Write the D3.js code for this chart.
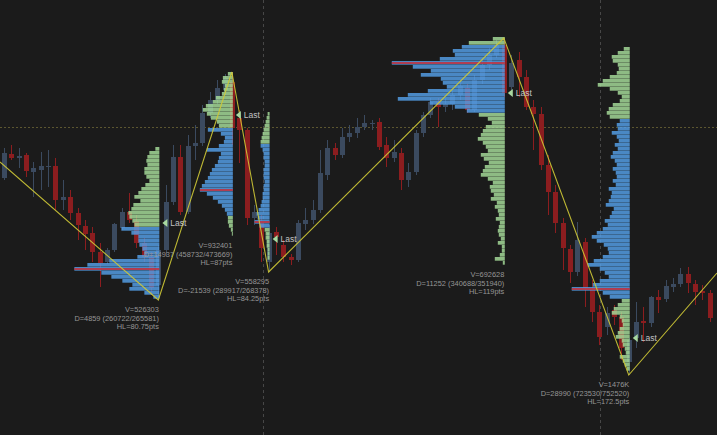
<!DOCTYPE html>
<html>
<head>
<meta charset="utf-8">
<script src="https://cdn.jsdelivr.net/npm/d3@7"></script>
<style>
html, body { margin: 0; padding: 0; background: #1b1b1b; overflow: hidden; }
</style>
</head>
<body>
<div id="chart"></div>
<script>
// candles (price), one per bar
const opens  = [4011,4023,4021,4022.5,4014,4015,4016.5,4017,4000,4001.5,3993.5,3987,3983.5,3974,3969,3975,3986,3994,3989.5,3978.5,3971.5,3957.5,3975,3999,4021.5,3994,4027,4028.5,4043.5,4050,4055,4059,4041,4035,3991,3988.5,3969,3984,3977.5,3971.5,3970,3988,3990,3995,4012.5,4026,4022.5,4031.5,4033.5,4036.5,4038,4039,4027.5,4021,4023.5,4010,4014,4033.5,4042.5,4049,4046.5,4048,4052.5,4056,4045,4060,4067.5,4072.5,4077.5,4056.5,4070,4061.5,4046.5,4043,4017.5,4004,3988.5,3975.5,3964,3979,3956,3944,3936.5,3945,3941.5,3919,3931,3939.5,3938.5,3951.5,3950.5,3956.5,3958,3963,3958,3954.5,3953.5];
const highs  = [4026,4027.5,4026,4023.5,4019,4024,4025,4021,4010,4005,3996,3990,3986.5,3978.5,3976,3988.5,3996,4003.5,3992.5,3981,3974,3977.5,4007.5,4027.5,4027.5,4032.5,4037.5,4047.5,4054,4060,4063,4064,4045,4036,3997.5,3992.5,3987.5,3986.5,3980,3973,3990,3996,4000,4025,4030,4028.5,4036,4037.5,4041,4042.5,4040,4041,4031.5,4030,4026,4018.5,4035,4044,4051,4051,4051,4055,4060,4058,4062.5,4071,4076,4080,4081,4072.5,4074,4065,4050,4046.5,4022.5,4007.5,3991,3977.5,3989,3981,3960,3947.5,3946.5,3947.5,3944,3931,3949,3946.5,3952,3955,3960,3961,3966,3966.5,3960,3957.5,3955];
const lows   = [4010,4020,4016,4011.5,4001.5,4005,4006.5,3995,3995,3990,3980,3975,3969,3956.5,3968,3974,3985,3988.5,3976,3969,3952.5,3950,3972,3997.5,3992.5,3993,4020,4027,4041,4048,4052.5,4027.5,4018.5,3987.5,3987.5,3969,3964,3972.5,3969,3967.5,3969,3985,3988,3993.5,4010,4020,4021,4029,4031,4035,4035,4025,4016.5,4019,4005,4006.5,4012.5,4031.5,4041,4036.5,4044,4045,4050,4043.5,4044,4058,4065,4071,4051.5,4055,4051.5,4045,4025,4015,3992.5,3983.5,3965,3958.5,3962,3946.5,3939,3927.5,3932.5,3937.5,3920,3912.5,3926,3929,3936.5,3943.5,3949,3954,3956.5,3953.5,3947.5,3950,3939];
const closes = [4023.5,4021,4022,4014.5,4016,4017,4017,4000,4001.5,3993.5,3987.5,3983,3974,3968.5,3975,3988,3994,3990,3978.5,3971.5,3956,3975,3999,4021.5,3994,4027,4028.5,4043.5,4050,4056,4061,4036,4035,3991,3994,3976,3983.5,3981.5,3971.5,3970,3988.5,3990,3995,4013.5,4026,4022.5,4031.5,4033.5,4036.5,4038.5,4038.5,4026.5,4021,4024,4010,4014,4033.5,4042.5,4049,4046.5,4048,4052.5,4057,4045,4060,4067.5,4072.5,4077.5,4053.5,4068.5,4061.5,4046.5,4043,4017.5,4004,3988.5,3976,3964,3980,3956,3944,3931.5,3943.5,3941.5,3926,3930,3939,3938.5,3951.5,3950,3957,3958,3963,3958.5,3954,3953.5,3941];

// zigzag swing points (bar index, price)
const zigzagIdx   = [-0.55, 21, 31, 36, 68, 85, 97];
const zigzagPrice = [4019, 3950, 4064, 3964, 4081, 3912.5, 3963.5];

// one volume profile per swing leg, ending at the swing bar
const profilePivot  = [21, 31, 36, 68, 85];
const profileHigh   = [4026.5, 4064, 4044, 4081.5, 4076.5];
const profileVaHigh = [3986.5, 4036, 4028, 4077.5, 4040.5];
const profileVaLow  = [3950.5, 3992, 3986, 4043.5, 3950.5];
const profileLast   = [3988.5, 4042.5, 3980.5, 4053.5, 3931];
const rowPts = 2;

const vol1 = [4,10,12,13,12,15,15,13,10,14,18,21,25,19,26,28,31,30,27,25,38,28,21,21,20,17,15,22,50,72,85,58,48,37,27,30,15,6];
const vol2 = [5,10,11,8,9,11,17,20,27,30,26,22,16,14,25,12,8,9,14,26,12,14,15,18,21,23,25,28,31,33,26,20,15,11,8,6,5,5,4,2,1];
const vol3 = [2,3,4,5,6,7,8,9,9,7,6,6,5,5,6,6,6,5,6,6,7,7,8,9,11,13,12,15,10,5,4,4,3,3,2,2,2];
const vol4 = [12,36,43,52,50,65,113,92,74,84,64,62,58,77,97,107,75,50,38,26,17,13,19,22,24,27,22,19,17,24,21,16,20,22,24,17,12,15,14,11,14,8,10,7,6,9,5,6,7,6,4,7,3,3,5,10,2];
const vol5 = [6,12,18,17,12,11,13,20,27,32,20,12,8,10,17,21,23,20,10,13,12,18,13,11,15,12,17,19,15,13,17,14,13,17,14,21,18,19,21,24,16,18,20,25,22,27,33,38,33,26,22,21,27,36,42,30,25,21,30,37,58,27,20,8,12,16,18,10,8,7,10,12,14,8,7,5,4,10,7,5,3];
const profileVols = [vol1, vol2, vol3, vol4, vol5];

// leg statistics
const statV  = ["V=526303", "V=932401", "V=558295", "V=692628", "V=1476K"];
const statD  = ["D=4859 (260722/265581)", "D=14937 (458732/473669)", "D=-21539 (289917/268378)", "D=11252 (340688/351940)", "D=28990 (723530/752520)"];
const statHL = ["HL=80.75pts", "HL=87pts", "HL=84.25pts", "HL=119pts", "HL=172.5pts"];

// grid
const gridIdx = [35.25, 81.1];
const gridPrice = [4036.5];

// ---- layout ----
const width = 717, height = 435;
const profileMaxPx = [85, 33, 15, 113, 58];

const svg = d3.select("#chart").append("svg")
    .attr("width", width)
    .attr("height", height)
    .style("display", "block")
    .style("background", "#1b1b1b");

const x = d3.scaleLinear().domain([0, 96]).range([4, 709.6]);
const y = d3.scaleLinear().domain([3882.5, 4100]).range([height, 0]);

const bullColor = "#3b4a5f";
const bearColor = "#8c1d1f";

// grid lines
svg.append("g").selectAll("line").data(gridIdx).join("line")
    .attr("x1", d => Math.round(x(d)) + 0.5)
    .attr("x2", d => Math.round(x(d)) + 0.5)
    .attr("y1", 0).attr("y2", height)
    .attr("stroke", "#474747")
    .attr("stroke-dasharray", "3,3");

svg.append("g").selectAll("line").data(gridPrice).join("line")
    .attr("x1", 0).attr("x2", width)
    .attr("y1", d => Math.round(y(d)) + 0.5)
    .attr("y2", d => Math.round(y(d)) + 0.5)
    .attr("stroke", "#5c5630")
    .attr("stroke-dasharray", "2,2");

// candles
const bars = d3.range(opens.length).map(i => ({
    i, o: opens[i], h: highs[i], l: lows[i], c: closes[i]
}));

const candleG = svg.append("g");
candleG.selectAll(".wick").data(bars).join("line")
    .attr("class", "wick")
    .attr("x1", d => Math.round(x(d.i)) + 0.5)
    .attr("x2", d => Math.round(x(d.i)) + 0.5)
    .attr("y1", d => y(d.h))
    .attr("y2", d => y(d.l))
    .attr("stroke", d => d.c >= d.o ? bullColor : bearColor)
    .attr("stroke-width", 1);

candleG.selectAll(".body").data(bars).join("rect")
    .attr("class", "body")
    .attr("x", d => Math.round(x(d.i)) - 2)
    .attr("width", 5)
    .attr("y", d => y(Math.max(d.o, d.c)))
    .attr("height", d => Math.max(1, Math.abs(y(d.o) - y(d.c))))
    .attr("fill", d => d.c >= d.o ? bullColor : bearColor);

// volume profiles
const profG = svg.append("g").attr("opacity", 0.82);
const pocG = svg.append("g");
profileVols.forEach((vols, j) => {
    const right = x(profilePivot[j]) + 1;
    const w = d3.scaleLinear().domain([0, d3.max(vols)]).range([0, profileMaxPx[j]]);
    const rows = vols.map((v, k) => {
        const top = profileHigh[j] - k * rowPts;
        const mid = top - rowPts / 2;
        return { v, top, mid, inVa: mid <= profileVaHigh[j] && mid >= profileVaLow[j] };
    });
    profG.append("g").selectAll("rect").data(rows).join("rect")
        .attr("x", d => right - w(d.v))
        .attr("width", d => w(d.v))
        .attr("y", d => y(d.top))
        .attr("height", d => y(d.top - rowPts) - y(d.top) - 0.3)
        .attr("fill", d => d.inVa ? "#55a0ea" : "#a8df9c");

    const poc = rows[d3.maxIndex(vols)];
    pocG.append("line")
        .attr("x1", right - w(poc.v)).attr("x2", right)
        .attr("y1", y(poc.mid)).attr("y2", y(poc.mid))
        .attr("stroke", "#d2262c")
        .attr("stroke-width", 1.5);
});

// zigzag
const zz = zigzagIdx.map((d, k) => [x(d), y(zigzagPrice[k])]);
svg.append("path")
    .attr("d", d3.line()(zz))
    .attr("fill", "none")
    .attr("stroke", "#cfc936")
    .attr("stroke-width", 1.1)
    .attr("opacity", 0.9);

// "Last" markers
const lastG = svg.append("g");
profilePivot.forEach((p, j) => {
    const right = x(p) + 1;
    const ly = y(profileLast[j]);
    lastG.append("path")
        .attr("d", `M${right + 3},${ly} L${right + 8},${ly - 4} L${right + 8},${ly + 4} Z`)
        .attr("fill", "#a9d9a0");
    lastG.append("text")
        .attr("x", right + 11)
        .attr("y", ly + 3)
        .attr("fill", "#c2c2c2")
        .style("font-family", "'Liberation Sans', Arial, sans-serif")
        .style("font-size", "8.5px")
        .text("Last");
});

// leg statistics below each profile
const statG = svg.append("g")
    .style("font-family", "'Liberation Sans', Arial, sans-serif")
    .style("font-size", "7.4px")
    .attr("fill", "#969696")
    .attr("text-anchor", "end");
profilePivot.forEach((p, j) => {
    const low = Math.min(profileHigh[j] - profileVols[j].length * rowPts, zigzagPrice[j + 1]);
    const base = y(low) + 12;
    [statV[j], statD[j], statHL[j]].forEach((t, k) => {
        statG.append("text")
            .attr("x", x(p) + 0.5)
            .attr("y", base + k * 8.6)
            .text(t);
    });
});
</script>
</body>
</html>
